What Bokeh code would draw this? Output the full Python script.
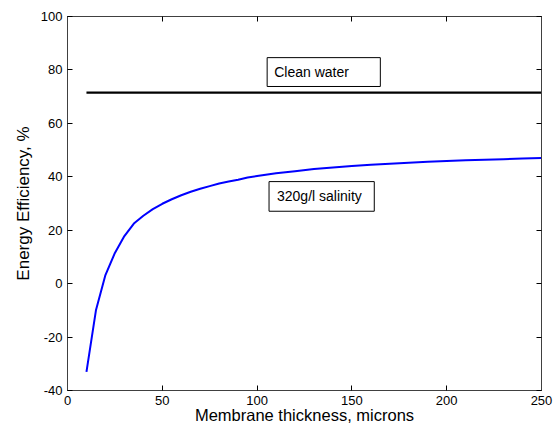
from bokeh.plotting import figure
from bokeh.models import LinearAxis, FixedTicker, BoxAnnotation, Label, Range1d
from bokeh.embed import file_html
from bokeh.resources import INLINE

# Data
thickness = [10, 15, 20, 25, 30, 35, 40, 45, 50, 55, 60, 65, 70, 75, 80, 85, 90, 95,
             100, 110, 120, 130, 140, 150, 160, 170, 180, 190, 200, 210, 220, 230, 240, 250]
eff_salinity = [-33.0, -10.0, 3.2, 11.5, 17.8, 22.5, 25.4, 27.9, 29.9, 31.6, 33.1, 34.4,
                35.5, 36.5, 37.5, 38.2, 38.9, 39.7, 40.3, 41.3, 42.1, 42.9, 43.5, 44.0,
                44.5, 44.9, 45.3, 45.6, 45.9, 46.2, 46.4, 46.6, 46.8, 47.0]
clean_x = [10, 250]
clean_y = [71.5, 71.5]

x_ticks = [0, 50, 100, 150, 200, 250]
y_ticks = [-40, -20, 0, 20, 40, 60, 80, 100]
y_tick_labels = ["-40", "-20", "0", "20", "40", "60", "80", "100"]

FONT = "Liberation Sans"

p = figure(width=555, height=430, output_backend="svg", toolbar_location=None,
           x_range=Range1d(0, 250), y_range=Range1d(-40, 100),
           min_border_left=67, min_border_right=14, min_border_top=16, min_border_bottom=40,
           x_axis_label="Membrane thickness, microns", y_axis_label="Energy Efficiency, %")
p.grid.visible = False
p.outline_line_color = "#404040"
p.background_fill_color = "white"
p.border_fill_color = "white"

for ax in p.xaxis + p.yaxis:
    ax.major_label_text_font = FONT
    ax.major_label_text_font_size = "13px"
    ax.major_label_text_color = "black"
    ax.axis_label_text_font = FONT
    ax.axis_label_text_font_style = "normal"
    ax.axis_label_text_color = "black"
    ax.major_tick_in = 5
    ax.major_tick_out = 0
    ax.minor_tick_line_color = None
    ax.major_tick_line_color = "black"
    ax.axis_line_color = "#404040"

p.xaxis.ticker = FixedTicker(ticks=x_ticks)
p.yaxis.ticker = FixedTicker(ticks=y_ticks)
p.yaxis.major_label_overrides = {t: s for t, s in zip(y_ticks, y_tick_labels)}
p.xaxis.axis_label_text_font_size = "16.5px"
p.yaxis.axis_label_text_font_size = "17px"
p.xaxis.major_label_standoff = 5
p.xaxis.axis_label_standoff = -2
p.yaxis.major_label_standoff = 5
p.yaxis.axis_label_standoff = 5

top = LinearAxis(ticker=FixedTicker(ticks=x_ticks), major_label_text_font_size="0px",
                 major_label_text_color=None,
                 major_label_standoff=0, major_tick_in=5, major_tick_out=0,
                 minor_tick_line_color=None, axis_line_color="#404040")
right = LinearAxis(ticker=FixedTicker(ticks=y_ticks), major_label_text_font_size="0px",
                   major_label_text_color=None,
                   major_label_standoff=0, major_tick_in=5, major_tick_out=0,
                   minor_tick_line_color=None, axis_line_color="#404040")
p.add_layout(top, "above")
p.add_layout(right, "right")

p.line(clean_x, clean_y, line_color="black", line_width=2.2)
p.line(thickness, eff_salinity, line_color="#0000ff", line_width=2)

box1 = BoxAnnotation(left=105.3, right=165, bottom=73.8, top=84.6,
                     fill_color="white", fill_alpha=1, line_color="black",
                     line_alpha=1, line_width=1)
box2 = BoxAnnotation(left=106.3, right=161.8, bottom=27.1, top=38.2,
                     fill_color="white", fill_alpha=1, line_color="black",
                     line_alpha=1, line_width=1)
p.add_layout(box1)
p.add_layout(box2)
p.add_layout(Label(x=109, y=79.3, text="Clean water", text_font=FONT,
                   text_font_size="14px", text_baseline="middle", text_color="black"))
p.add_layout(Label(x=110.5, y=32.7, text="320g/l salinity", text_font=FONT,
                   text_font_size="14px", text_baseline="middle", text_color="black"))

open("out.html", "w").write(file_html(p, INLINE))
